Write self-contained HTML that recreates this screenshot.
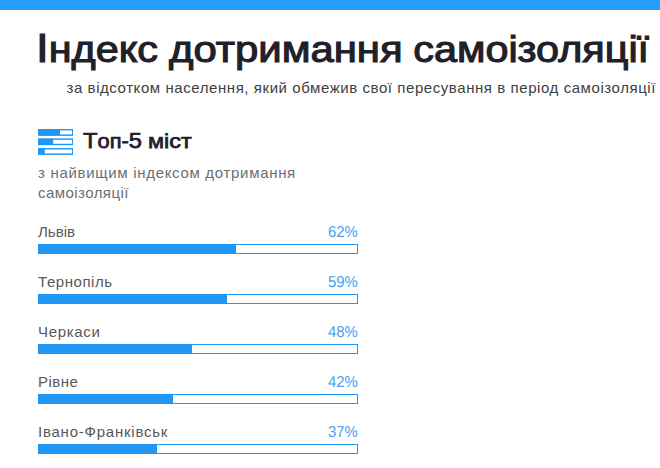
<!DOCTYPE html>
<html lang="uk">
<head>
<meta charset="utf-8">
<title>Індекс дотримання самоізоляції</title>
<style>
html,body{margin:0;padding:0;background:#fff;}
body{width:660px;height:468px;overflow:hidden;position:relative;font-family:"Liberation Sans",sans-serif;color:#222;}
.topbar{position:absolute;left:0;top:0;width:660px;height:10px;background:#239eff;}
h1{position:absolute;left:36.1px;top:24.8px;margin:0;font-size:37px;line-height:50px;font-weight:normal;-webkit-text-stroke:1.1px #1f2029;color:#1f2029;white-space:nowrap;transform-origin:0 0;transform:scaleX(1.118);}
h1 b{font-weight:normal;font-size:41px;line-height:0;}
h1 span{display:inline-block;transform-origin:0 0;}
.sub{position:absolute;left:66.5px;top:78px;margin:0;font-size:15px;line-height:20px;color:#404040;white-space:nowrap;letter-spacing:0.57px;}
.icon{position:absolute;left:38px;top:129px;width:35px;height:26px;}
h2{position:absolute;left:83px;top:127px;margin:0;font-size:21px;line-height:28px;font-weight:normal;-webkit-text-stroke:0.75px #1f2029;color:#1f2029;white-space:nowrap;transform-origin:0 0;}
h2 b{font-weight:normal;font-size:22.8px;line-height:0;}
h2 span{display:inline-block;transform-origin:0 0;}
.desc{position:absolute;left:38px;top:163px;margin:0;font-size:15px;line-height:20px;color:#6e6e6e;width:330px;letter-spacing:0.69px;}
.row{position:absolute;left:38px;width:320px;height:34px;}
.row .name{position:absolute;left:0;top:0;font-size:15px;line-height:20px;color:#585858;white-space:nowrap;}
.row .pct{position:absolute;right:0.8px;top:0.6px;font-size:15.8px;line-height:20px;color:#4a9df0;white-space:nowrap;transform-origin:100% 15px;transform:scale(0.94,1);text-rendering:geometricPrecision;}
.row .bar{position:absolute;left:0;top:22px;width:318px;height:8px;border:1px solid #2196f3;background:#fff;}
.row .bar i{display:block;height:100%;background:#2196f3;}
</style>
</head>
<body>
<div class="topbar"></div>
<h1><b>І</b>ндекс <span style="transform:scaleX(1.012)">дотримання</span> <span style="margin-left:1.3px">самоізоляції</span></h1>
<p class="sub">за відсотком населення, який обмежив свої пересування в період самоізоляції</p>
<svg class="icon" viewBox="0 0 35 26">
<g fill="#2196f3">
<rect x="0" y="0" width="35" height="6.9"/>
<rect x="0" y="9.3" width="35" height="6.9"/>
<rect x="0" y="19" width="35" height="6.9"/>
</g>
<g fill="#fff">
<rect x="22" y="1.4" width="12" height="4"/>
<rect x="15.2" y="10.8" width="18.8" height="4"/>
<rect x="6.8" y="20.4" width="27.2" height="4"/>
</g>
</svg>
<h2><span style="transform:scaleX(1.04)"><b>Т</b>оп-<b>5</b></span> <span style="transform:scaleX(1.113);margin-left:2.4px">міст</span></h2>
<p class="desc">з найвищим індексом дотримання<br><span style="letter-spacing:0.44px">самоізоляції</span></p>
<div class="row" style="top:222px"><span class="name">Львів</span><span class="pct">62%</span><div class="bar"><i style="width:62%"></i></div></div>
<div class="row" style="top:272px"><span class="name" style="letter-spacing:0.56px">Тернопіль</span><span class="pct">59%</span><div class="bar"><i style="width:59%"></i></div></div>
<div class="row" style="top:322px"><span class="name" style="letter-spacing:0.68px">Черкаси</span><span class="pct">48%</span><div class="bar"><i style="width:48%"></i></div></div>
<div class="row" style="top:372px"><span class="name" style="letter-spacing:0.45px">Рівне</span><span class="pct">42%</span><div class="bar"><i style="width:42%"></i></div></div>
<div class="row" style="top:422px"><span class="name" style="letter-spacing:0.77px">Івано-Франківськ</span><span class="pct">37%</span><div class="bar"><i style="width:37%"></i></div></div>
</body>
</html>
